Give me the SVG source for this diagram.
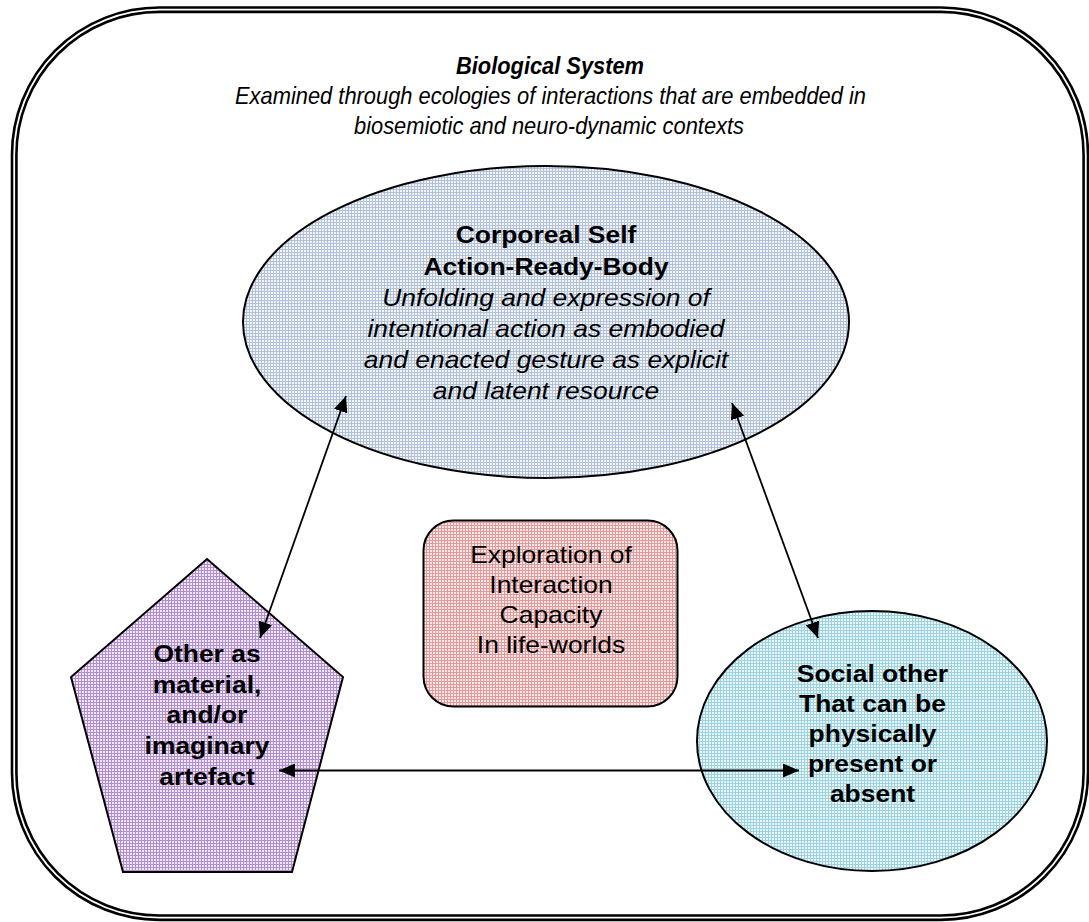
<svg xmlns="http://www.w3.org/2000/svg" width="1089" height="922" viewBox="0 0 1089 922">
  <style>
    .title { font-family: "Liberation Sans", Arial, sans-serif; font-size: 24px; font-style: italic; fill: #000; text-anchor: middle; }
    .lbl { font-family: "Liberation Sans", Arial, sans-serif; font-size: 23px; fill: #000; text-anchor: middle; }
    .b { font-weight: bold; }
    .i { font-style: italic; }
    .shape { stroke: #000; stroke-width: 2; }
    .conn { stroke: #000; stroke-width: 1.8; fill: none; marker-start: url(#head); marker-end: url(#head); }
  </style>
  <defs>
    <!-- fine woven textures used as shape fills -->
    <pattern id="texBlue" width="3" height="3" patternUnits="userSpaceOnUse">
      <rect width="3" height="3" fill="#b3c1d6"/>
      <rect x="1" y="1" width="2" height="2" fill="#f1f4f9"/>
    </pattern>
    <pattern id="texPink" width="3" height="3" patternUnits="userSpaceOnUse">
      <rect width="3" height="3" fill="#de9c9c"/>
      <rect x="1" y="1" width="2" height="2" fill="#fae6e6"/>
    </pattern>
    <pattern id="texPurple" width="3" height="3" patternUnits="userSpaceOnUse">
      <rect width="3" height="3" fill="#b08fcb"/>
      <rect x="1" y="1" width="2" height="2" fill="#efe6f7"/>
    </pattern>
    <pattern id="texCyan" width="3" height="3" patternUnits="userSpaceOnUse">
      <rect width="3" height="3" fill="#9dd1de"/>
      <rect x="1" y="1" width="2" height="2" fill="#e8f6f9"/>
    </pattern>
    <marker id="head" markerUnits="userSpaceOnUse" markerWidth="16" markerHeight="14" refX="16" refY="7" orient="auto-start-reverse" viewBox="0 0 16 14">
      <path d="M0,0 L16,7 L0,14 z" fill="#000"/>
    </marker>
  </defs>

  <rect width="1089" height="922" fill="#fff"/>

  <!-- outer double-line frame -->
  <g id="frame">
    <rect x="14.2" y="9.7" width="1071.6" height="908" rx="145" ry="145" fill="none" stroke="#000" stroke-width="7"/>
    <rect x="14.2" y="9.7" width="1071.6" height="908" rx="145" ry="145" fill="none" stroke="#fff" stroke-width="1.8"/>
  </g>

  <g id="system-title">
    <text class="title b" x="550" y="73.5" textLength="188" lengthAdjust="spacingAndGlyphs">Biological System</text>
    <text class="title" x="550.5" y="104" textLength="631" lengthAdjust="spacingAndGlyphs">Examined through ecologies of interactions that are embedded in</text>
    <text class="title" x="549" y="134" textLength="390" lengthAdjust="spacingAndGlyphs">biosemiotic and neuro-dynamic contexts</text>
  </g>

  <g id="corporeal-self">
    <ellipse class="shape" cx="546" cy="322" rx="303" ry="156" fill="url(#texBlue)"/>
    <g transform="translate(546 0) scale(1.15 1)">
      <text class="lbl b" x="0" y="243.5">Corporeal Self</text>
      <text class="lbl b" x="0" y="274.7">Action-Ready-Body</text>
      <text class="lbl i" x="0" y="305.9">Unfolding and expression of</text>
      <text class="lbl i" x="0" y="337.1">intentional action as embodied</text>
      <text class="lbl i" x="0" y="368.3">and enacted gesture as explicit</text>
      <text class="lbl i" x="0" y="399.5">and latent resource</text>
    </g>
  </g>

  <g id="interaction-capacity">
    <rect class="shape" x="423.5" y="520.5" width="254" height="186" rx="30" ry="30" fill="url(#texPink)"/>
    <g transform="translate(551 0) scale(1.15 1)">
      <text class="lbl" x="0" y="563">Exploration of</text>
      <text class="lbl" x="0" y="593">Interaction</text>
      <text class="lbl" x="0" y="623">Capacity</text>
      <text class="lbl" x="0" y="653">In life-worlds</text>
    </g>
  </g>

  <g id="material-other">
    <polygon class="shape" points="207,559 343,677 292,872 123,872 71,677" fill="url(#texPurple)"/>
    <g transform="translate(207 0) scale(1.15 1)">
      <text class="lbl b" x="0" y="662">Other as</text>
      <text class="lbl b" x="0" y="693">material,</text>
      <text class="lbl b" x="0" y="723.5">and/or</text>
      <text class="lbl b" x="0" y="754">imaginary</text>
      <text class="lbl b" x="0" y="785">artefact</text>
    </g>
  </g>

  <g id="social-other">
    <ellipse class="shape" cx="872" cy="741" rx="175" ry="130" fill="url(#texCyan)"/>
    <g transform="translate(872.5 0) scale(1.15 1)">
      <text class="lbl b" x="0" y="681.7">Social other</text>
      <text class="lbl b" x="0" y="711.7">That can be</text>
      <text class="lbl b" x="0" y="741.7">physically</text>
      <text class="lbl b" x="0" y="771.7">present or</text>
      <text class="lbl b" x="0" y="801.7">absent</text>
    </g>
  </g>

  <g id="connectors">
    <line class="conn" x1="346" y1="396" x2="260" y2="638"/>
    <line class="conn" x1="732" y1="403" x2="818" y2="638"/>
    <line class="conn" x1="279" y1="770.5" x2="799" y2="770.5"/>
  </g>
</svg>
